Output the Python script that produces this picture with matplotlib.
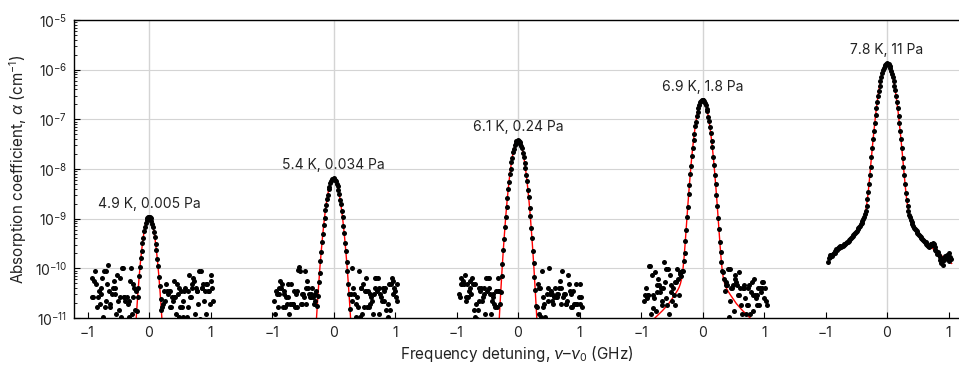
import numpy as np
import matplotlib
matplotlib.use("Agg")
import matplotlib.pyplot as plt
from matplotlib.ticker import FixedLocator, LogLocator, NullFormatter, LogFormatterSciNotation

plt.rcParams['font.family'] = ['Inter', 'DejaVu Sans']
plt.rcParams['mathtext.fontset'] = 'custom'
plt.rcParams['mathtext.rm'] = 'Inter'
plt.rcParams['mathtext.it'] = 'Inter:italic'
plt.rcParams['mathtext.bf'] = 'Inter:bold'

# ---------------- data ----------------
labels = ["4.9 K, 0.005 Pa", "5.4 K, 0.034 Pa", "6.1 K, 0.24 Pa", "6.9 K, 1.8 Pa", "7.8 K, 11 Pa"]
panel_offsets = [0, 3, 6, 9, 12]          # shift of each spectrum on the shared axis (GHz)
detuning_ticks = [-1, 0, 1]
detuning_tick_labels = ["\u22121", "0", "1"]
y_decades = [1e-11, 1e-10, 1e-9, 1e-8, 1e-7, 1e-6, 1e-5]

# measured spectra: log10(alpha / cm^-1) on a uniform detuning grid
meas_start, meas_stop = -0.96, 1.04

log_alpha_1 = [
    -11.30, -11.30, -10.19, -10.58, -10.58, -10.26, -10.06, -10.32, -10.78, -11.20,
    -10.58, -10.45, -10.71, -10.39, -10.52, -10.19, -10.97, -10.06, -10.78, -10.06,
    -10.65, -10.32, -9.93, -10.45, -10.71, -10.78, -11.15, -10.52, -10.39, -10.26,
    -10.52, -10.39, -10.91, -10.13, -10.65, -10.84, -10.58, -10.19, -10.97, -10.00,
    -10.00, -10.58, -10.58, -10.65, -11.30, -10.58, -10.71, -10.97, -10.65, -10.26,
    -10.00, -10.91, -10.32, -10.58, -10.39, -10.84, -10.45,
    -10.86, -10.58, -10.39, -10.15, -9.98, -9.79, -9.65, -9.48, -9.38, -9.25,
    -9.17, -9.09, -9.03, -8.99, -8.97, -8.96, -8.97, -8.99, -9.04, -9.10,
    -9.16, -9.27, -9.36, -9.50, -9.63, -9.81, -9.96, -10.17, -10.36, -10.62, -10.83,
    -10.78, -10.71, -10.45, -10.65, -11.20, -10.32, -10.45, -10.52, -10.45, -10.78,
    -10.45, -10.78, -10.58, -10.65, -10.58, -10.26, -10.58, -10.91, -10.32, -10.52,
    -10.97, -10.39, -10.78, -10.45, -10.78, -10.97, -10.65, -10.45, -10.39, -11.20,
    -10.97, -10.78, -10.45, -10.13, -10.58, -10.58, -10.39, -10.32, -10.19, -10.26,
    -10.91, -10.39, -10.45, -10.45, -10.71, -10.06, -11.03, -10.06, -10.39, -10.39,
    -10.32, -10.65, -10.45, -10.91, -10.32, -10.32, -10.45, -10.45, -10.71, -10.13,
    -10.26, -10.39, -10.65,
]

log_alpha_2 = [
    -10.65, -10.91, -10.45, -10.52, -10.78, -10.52, -10.39, -10.26, -10.39, -10.32,
    -10.78, -10.45, -10.52, -10.78, -10.58, -10.71, -10.32, -10.58, -10.91, -10.71,
    -10.32, -10.71, -10.71, -10.71, -10.45, -10.78, -10.52, -10.78, -10.45, -10.03,
    -9.98, -10.05, -10.71, -10.71, -10.52, -10.52, -10.58, -10.06, -10.71, -10.39,
    -10.26, -10.39, -10.52, -10.58, -10.52, -10.58, -10.39, -10.58, -10.71, -10.52,
    -10.65, -10.45,
    -10.76, -10.55, -10.28, -10.09, -9.85, -9.67, -9.46, -9.30, -9.12, -8.99,
    -8.83, -8.73, -8.60, -8.52, -8.41, -8.36, -8.28, -8.25, -8.21, -8.20,
    -8.19, -8.20, -8.22, -8.24, -8.30, -8.34, -8.43, -8.50, -8.62, -8.71,
    -8.85, -8.97, -9.14, -9.28, -9.48, -9.65, -9.87, -10.06, -10.31, -10.52, -10.81,
    -10.52, -10.00, -10.65, -10.39, -10.52, -11.10, -10.97, -10.71, -10.58, -10.78,
    -10.06, -10.97, -10.39, -10.39, -10.91, -10.32, -10.78, -10.45, -10.19, -10.45,
    -10.78, -10.45, -10.78, -10.71, -10.52, -10.58, -10.65, -10.91, -10.52, -10.39,
    -10.19, -10.19, -10.45, -10.19, -10.91, -10.39, -10.52, -10.58, -10.65, -10.39,
    -10.45, -10.65, -10.39, -10.84, -11.03, -10.71, -10.97, -10.32, -10.84, -10.32,
    -10.19, -10.52, -10.26, -10.39, -10.45, -10.58, -10.32, -10.65,
]

log_alpha_3 = [
    -10.52, -10.58, -10.32, -10.19, -10.32, -10.26, -10.32, -10.13, -10.58, -10.65,
    -10.32, -10.58, -10.45, -10.39, -10.26, -10.52, -10.19, -10.32, -10.84, -10.32,
    -10.97, -10.71, -11.03, -10.84, -10.39, -10.65, -10.45, -10.39, -10.65, -10.58,
    -10.52, -10.39, -10.91, -10.19, -10.45, -10.19, -10.19, -10.39, -10.52, -10.91,
    -10.65, -10.58, -10.52, -10.71, -10.78, -10.45, -10.78, -10.45, -10.19, -10.45,
    -10.72, -10.47, -10.15, -9.91, -9.63, -9.41, -9.17, -8.97, -8.76, -8.59,
    -8.40, -8.26, -8.10, -7.99, -7.85, -7.77, -7.66, -7.60, -7.52, -7.48,
    -7.44, -7.43, -7.42, -7.43, -7.45, -7.49, -7.53, -7.58, -7.68, -7.75,
    -7.87, -7.97, -8.12, -8.24, -8.42, -8.57, -8.78, -8.95, -9.19, -9.39,
    -9.65, -9.89, -10.18, -10.44, -10.76,
    -10.78, -10.32, -10.91, -10.39, -10.39, -10.97, -10.06, -10.78, -10.58, -10.71,
    -10.97, -11.10, -10.52, -10.39, -10.65, -10.00, -10.52, -10.45, -10.65, -10.52,
    -10.71, -10.58, -10.39, -10.58, -10.52, -10.58, -10.52, -10.39, -10.26, -10.39,
    -10.71, -10.06, -10.58, -10.52, -10.52, -10.71, -10.71, -10.65, -10.13, -10.32,
    -10.45, -10.78, -10.52, -10.78, -10.45, -10.71, -10.71, -10.71, -10.32, -10.71,
    -10.91, -10.58, -10.32, -10.71, -10.58, -10.78,
]

log_alpha_4 = [
    -11.30, -10.66, -10.53, -10.40, -10.60, -10.53, -10.53, -9.95, -9.95, -10.92,
    -10.14, -10.53, -10.79, -10.60, -10.08, -10.86, -10.34, -10.47, -10.21, -10.34,
    -10.47, -10.40, -10.73, -10.66, -10.40, -9.88, -10.27, -10.60, -10.01, -10.73,
    -10.01, -10.92, -10.14, -10.47, -10.34, -10.66, -10.40, -10.53, -10.27, -10.73,
    -10.27, -10.01, -10.21, -10.53, -10.12, -10.08, -10.15, -10.05,
    -10.06, -9.85, -9.69, -9.44, -9.23, -8.97, -8.76, -8.51, -8.32, -8.10,
    -7.93, -7.73, -7.58, -7.41, -7.29, -7.14, -7.05, -6.93, -6.86, -6.77,
    -6.72, -6.66, -6.64, -6.62, -6.61, -6.62, -6.63, -6.68, -6.71, -6.79,
    -6.84, -6.95, -7.03, -7.16, -7.27, -7.43, -7.56, -7.75, -7.91, -8.12,
    -8.30, -8.53, -8.74, -8.99, -9.21, -9.46, -9.67, -9.88, -10.05,
    -10.08, -10.22, -10.45, -10.27, -10.34, -10.34, -10.01, -10.98, -10.01, -10.66,
    -10.40, -10.40, -10.34, -10.86, -10.21, -10.14, -10.27, -10.34, -10.53, -10.53,
    -10.08, -10.40, -10.73, -10.92, -10.40, -10.34, -10.40, -10.60, -10.92, -10.73,
    -10.40, -10.73, -10.34, -10.92, -10.47, -10.27, -10.86, -10.53, -10.21, -10.53,
    -10.60, -10.53, -10.73, -10.40, -10.73, -10.40, -10.47, -10.40, -10.27, -10.27,
    -10.60, -10.40, -10.66, -10.73,
]

log_alpha_5 = [
    -9.87, -9.79, -9.77, -9.74, -9.73, -9.76, -9.71, -9.70, -9.69, -9.65,
    -9.62, -9.63, -9.59, -9.57, -9.60, -9.56, -9.57, -9.55, -9.56, -9.53,
    -9.52, -9.50, -9.49, -9.47, -9.46, -9.44, -9.42, -9.40, -9.38, -9.37,
    -9.34, -9.33, -9.30, -9.28, -9.26, -9.24, -9.21, -9.19, -9.16, -9.14,
    -9.11, -9.08, -9.05,
    -9.01, -8.96, -8.91, -8.84, -8.74, -8.61, -8.47, -8.31, -8.13, -7.95,
    -7.76, -7.58, -7.40, -7.23, -7.07, -6.92, -6.78, -6.65, -6.53, -6.42,
    -6.32, -6.22, -6.14, -6.07, -6.01, -5.96, -5.93, -5.90, -5.88, -5.87,
    -5.88, -5.89, -5.92, -5.97, -6.02, -6.08, -6.15, -6.23, -6.32, -6.41,
    -6.53, -6.65, -6.78, -6.93, -7.08, -7.24, -7.40, -7.58, -7.77, -7.95,
    -8.13, -8.31, -8.48, -8.62, -8.74, -8.84, -8.92, -8.97, -9.02,
    -9.07, -9.10, -9.15, -9.18, -9.20, -9.23, -9.25, -9.28, -9.30, -9.32,
    -9.35, -9.37, -9.39, -9.41, -9.43, -9.45, -9.47, -9.46, -9.50, -9.53,
    -9.55, -9.58, -9.55, -9.52, -9.50, -9.53, -9.49, -9.52, -9.57, -9.63,
    -9.66, -9.71, -9.68, -9.74, -9.78, -9.84, -9.90, -9.86, -9.93, -9.84,
    -9.80, -9.75, -9.79, -9.73, -9.82, -9.70, -9.85, -9.77, -9.81,
]

# fitted line shapes: log10(alpha / cm^-1)
fit_x_core = [-0.40, -0.38, -0.36, -0.34, -0.32, -0.30, -0.28, -0.26, -0.24, -0.22,
              -0.20, -0.18, -0.16, -0.14, -0.12, -0.10, -0.08, -0.06, -0.04, -0.02,
              0.00, 0.02, 0.04, 0.06, 0.08, 0.10, 0.12, 0.14, 0.16, 0.18,
              0.20, 0.22, 0.24, 0.26, 0.28, 0.30, 0.32, 0.34, 0.36, 0.38, 0.40]
fit_x_wide = [-0.95, -0.90, -0.85, -0.80, -0.75, -0.70, -0.65, -0.60, -0.55, -0.50, -0.45] \
    + fit_x_core \
    + [0.45, 0.50, 0.55, 0.60, 0.65, 0.70, 0.75, 0.80, 0.85, 0.90, 0.95, 1.00, 1.05]

fit_1 = [-16.47, -15.74, -15.05, -14.39, -13.77, -13.19, -12.64, -12.13, -11.66, -11.23,
         -10.84, -10.48, -10.16, -9.88, -9.64, -9.43, -9.26, -9.13, -9.04, -8.98,
         -8.96, -8.98, -9.04, -9.13, -9.26, -9.43, -9.64, -9.88, -10.16, -10.48,
         -10.84, -11.23, -11.66, -12.13, -12.64, -13.19, -13.77, -14.39, -15.05, -15.74, -16.47]
fit_2 = [-14.05, -13.48, -12.94, -12.42, -11.94, -11.49, -11.06, -10.67, -10.30, -9.96,
         -9.66, -9.38, -9.13, -8.91, -8.72, -8.56, -8.42, -8.32, -8.25, -8.20,
         -8.19, -8.20, -8.25, -8.32, -8.42, -8.56, -8.72, -8.91, -9.13, -9.38,
         -9.66, -9.96, -10.30, -10.67, -11.06, -11.49, -11.94, -12.42, -12.94, -13.48, -14.05]
fit_3 = [-13.60, -12.99, -12.42, -11.88, -11.37, -10.89, -10.45, -10.03, -9.64, -9.29,
         -8.96, -8.67, -8.41, -8.18, -7.98, -7.81, -7.67, -7.56, -7.48, -7.44,
         -7.42, -7.44, -7.48, -7.56, -7.67, -7.81, -7.98, -8.18, -8.41, -8.67,
         -8.96, -9.29, -9.64, -10.03, -10.45, -10.89, -11.37, -11.88, -12.42, -12.99, -13.60]
fit_4 = [-11.18, -11.13, -11.08, -11.03, -10.97, -10.91, -10.85, -10.78, -10.71, -10.62, -10.53,
         -10.43, -10.38, -10.31, -10.21, -10.04, -9.78, -9.45, -9.10, -8.75, -8.42,
         -8.11, -7.82, -7.57, -7.35, -7.15, -6.99, -6.85, -6.74, -6.67, -6.62,
         -6.61, -6.62, -6.67, -6.74, -6.85, -6.99, -7.15, -7.35, -7.57, -7.82,
         -8.11, -8.42, -8.75, -9.10, -9.45, -9.78, -10.04, -10.21, -10.31, -10.38, -10.43,
         -10.53, -10.62, -10.71, -10.78, -10.85, -10.91, -10.97, -11.03, -11.08, -11.13,
         -11.18, -11.22, -11.27]
fit_5 = [-9.81, -9.76, -9.71, -9.66, -9.61, -9.55, -9.48, -9.41, -9.34, -9.26, -9.17,
         -9.06, -9.00, -8.91, -8.79, -8.62, -8.39, -8.13, -7.85, -7.58, -7.32,
         -7.08, -6.85, -6.65, -6.47, -6.32, -6.18, -6.07, -5.99, -5.93, -5.89,
         -5.87, -5.89, -5.93, -5.99, -6.07, -6.18, -6.32, -6.47, -6.65, -6.85,
         -7.08, -7.32, -7.58, -7.85, -8.13, -8.39, -8.62, -8.79, -8.91, -9.00, -9.06,
         -9.17, -9.26, -9.34, -9.41, -9.48, -9.55, -9.61, -9.66, -9.71, -9.76,
         -9.81, -9.85, -9.90]

measured = [log_alpha_1, log_alpha_2, log_alpha_3, log_alpha_4, log_alpha_5]
fits = [fit_1, fit_2, fit_3, fit_4, fit_5]
fit_xs = [fit_x_core, fit_x_core, fit_x_core, fit_x_wide, fit_x_wide]

# ---------------- figure ----------------
W, H = 959, 366
fig = plt.figure(figsize=(W / 100, H / 100), dpi=100)
ax = fig.add_axes([74 / W, 1 - 318 / H, 885 / W, 298 / H])
ax.set_yscale('log')
ax.set_ylim(1e-11, 1e-5)
ax.set_xlim(-1.22, 13.17)

text_color = '#222222'
grid_color = '#d4d4d4'

ax.yaxis.set_major_locator(FixedLocator(y_decades))
ax.yaxis.set_major_formatter(LogFormatterSciNotation())
ax.yaxis.set_minor_locator(LogLocator(base=10, subs=np.arange(2, 10), numticks=30))
ax.yaxis.set_minor_formatter(NullFormatter())

ax.yaxis.grid(True, which='major', color=grid_color, lw=0.8, zorder=0)
for off in panel_offsets:
    ax.axvline(off, color=grid_color, lw=1.0, zorder=0)

for off, la, fx, fy, lab in zip(panel_offsets, measured, fit_xs, fits, labels):
    x = off + np.linspace(meas_start, meas_stop, len(la))
    ax.plot(off + np.asarray(fx), 10 ** np.asarray(fy), color='#ff0000', lw=1.0, zorder=2)
    ax.plot(x, 10 ** np.asarray(la), 'o', color='black', ms=3.6, mew=0, zorder=3)
    peak = 10 ** max(la)
    ax.annotate(lab, xy=(off, peak), xytext=(0, 9.4), textcoords='offset points',
                ha='center', va='center', fontsize=10, color=text_color)

xt = [off + t for off in panel_offsets for t in detuning_ticks]
xl = [l for off in panel_offsets for l in detuning_tick_labels]
ax.set_xticks(xt)
ax.set_xticklabels(xl)

ax.tick_params(axis='x', direction='in', length=4, width=0.8, pad=6,
               labelsize=10, colors='black', labelcolor=text_color)
ax.tick_params(axis='y', which='major', direction='in', length=4, width=0.8, pad=5,
               labelsize=10, colors='black', labelcolor=text_color)
ax.tick_params(axis='y', which='minor', direction='in', length=2, width=0.6, colors='black')

for s in ['left', 'top', 'bottom']:
    ax.spines[s].set_linewidth(1.0)
    ax.spines[s].set_color('black')
ax.spines['right'].set_visible(False)

ax.set_xlabel("Frequency detuning, $\\it{\u03bd}$\u2013$\\it{\u03bd}_0$ (GHz)",
              fontsize=11, color=text_color, labelpad=3)
ax.set_ylabel("Absorption coefficient, $\\it{\u03b1}$ (cm$^{\u22121}$)",
              fontsize=11, color=text_color, labelpad=4)

fig.savefig("out.png", dpi=100)
